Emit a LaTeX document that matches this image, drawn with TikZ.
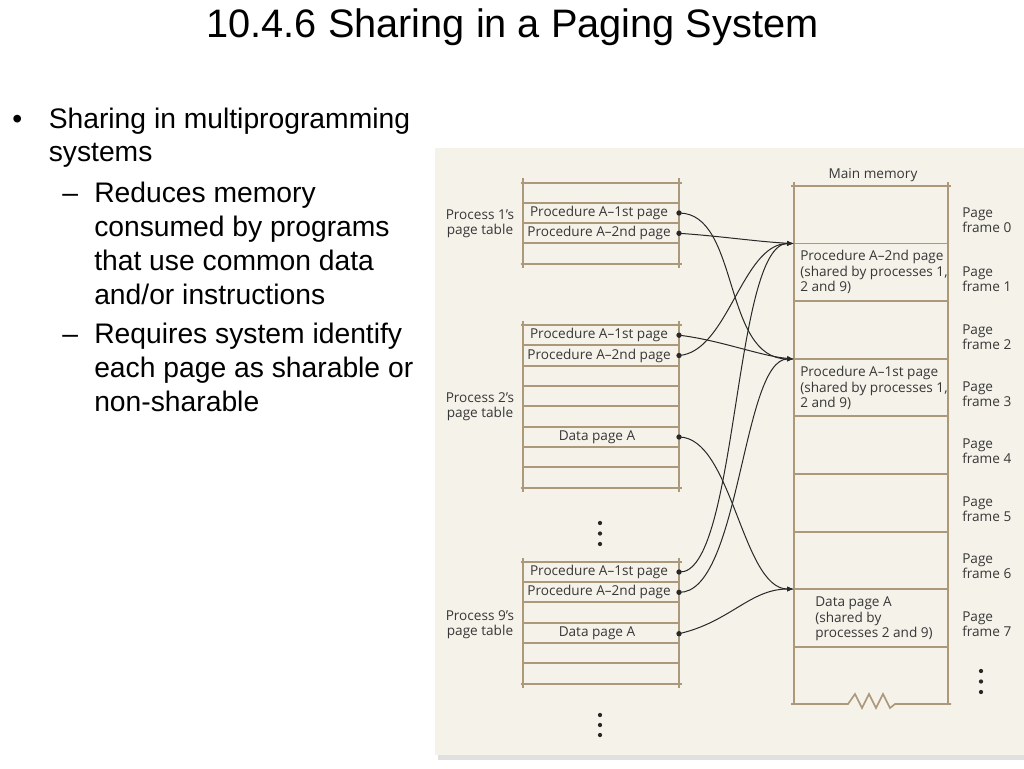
\documentclass[tikz,border=0pt]{standalone}
\usepackage{fontspec}
\setmainfont{Liberation Sans}
\newfontfamily\dfont{Open Sans}
\usetikzlibrary{arrows.meta}
\definecolor{panel}{RGB}{245,242,234}
\definecolor{tabline}{RGB}{172,153,124}
\definecolor{dtext}{RGB}{55,55,55}
\definecolor{conncol}{RGB}{40,40,40}
\begin{document}
\begin{tikzpicture}[x=0.75pt,y=-0.75pt,
  tl/.style={draw=tabline, line width=1.25pt},
  cell/.style={font=\dfont\fontsize{10.2}{11.5}\selectfont, text=dtext, inner sep=0pt},
  lbl/.style={cell, align=left, anchor=west},
  conn/.style={draw=conncol, line width=0.75pt},
  arr/.style={-{Latex[length=5.2pt,width=3.8pt]}},
  pdot/.style={circle, fill=conncol, inner sep=0pt, minimum size=4pt},
  big/.style={font=\fontsize{21.2}{25.5}\selectfont, inner sep=0pt, anchor=base west},
  vd/.style={fill=conncol}]
\useasboundingbox (0,0) rectangle (1024,768);
% panel
\fill[black!12] (438,755) rectangle (1024,760);
\fill[panel] (435,148) rectangle (1024,755);

% title
\node[anchor=base, inner sep=0pt, font=\fontsize{29.8}{36}\selectfont] (title) at (512.5,37) {10.4.6 Sharing in a Paging System};

% bullets
\node[big] (b0) at (12,128) {•};
\node[big] (b1) at (48.5,128) {Sharing in multiprogramming};
\node[big] (b2) at (48.5,161) {systems};
\node[big] (s0) at (62,202) {–};
\node[big] (s1) at (94,202) {Reduces memory};
\node[big] (s2) at (94,236) {consumed by programs};
\node[big] (s3) at (94,270) {that use common data};
\node[big] (s4) at (94,304) {and/or instructions};
\node[big] (t0) at (62,343) {–};
\node[big] (t1) at (94,343) {Requires system identify};
\node[big] (t2) at (94,377) {each page as sharable or};
\node[big] (t3) at (94,411) {non-sharable};

% ---- Process 1 page table
\draw[tl] (523,178) -- (523,268) (679,178) -- (679,268);
\draw[tl] (520.5,182.7) -- (681.5,182.7) (520.5,264.3) -- (681.5,264.3);
\foreach \y in {202.7,223.3,243.3} \draw[tl] (523,\y) -- (679,\y);
\node[cell, align=center] (pt1) at (480,224) {Process 1’s\\page table};
\node[cell] (c1a) at (599,213) {Procedure A–1st page};
\node[cell] (c1b) at (599,233.3) {Procedure A–2nd page};

% ---- Process 2 page table
\draw[tl] (523,321) -- (523,492) (679,321) -- (679,492);
\draw[tl] (520.5,325) -- (681.5,325) (520.5,487.7) -- (681.5,487.7);
\foreach \y in {345.3,365.7,386,406.3,426.7,447,467.3} \draw[tl] (523,\y) -- (679,\y);
\node[cell, align=center] (pt2) at (480,407) {Process 2’s\\page table};
\node[cell] (c2a) at (599,335.2) {Procedure A–1st page};
\node[cell] (c2b) at (599,355.5) {Procedure A–2nd page};
\node[cell] (c2d) at (597,436.8) {Data page A};

% dots between tables
\foreach \y in {523,533.5,544} \fill[vd] (600,\y) circle (1.6pt);

% ---- Process 9 page table
\draw[tl] (523,558) -- (523,688) (679,558) -- (679,688);
\draw[tl] (520.5,561.7) -- (681.5,561.7) (520.5,683.7) -- (681.5,683.7);
\foreach \y in {582,602.3,622.7,643,663.3} \draw[tl] (523,\y) -- (679,\y);
\node[cell, align=center] (pt9) at (480,625) {Process 9’s\\page table};
\node[cell] (c9a) at (599,572) {Procedure A–1st page};
\node[cell] (c9b) at (599,592.2) {Procedure A–2nd page};
\node[cell] (c9d) at (597,633.5) {Data page A};

\foreach \y in {715,725,735} \fill[vd] (600,\y) circle (1.6pt);

% ---- Main memory
\node[cell] (mm) at (873,175) {Main memory};
\draw[tl] (794,182) -- (794,704) (948,182) -- (948,704);
\draw[tl] (791,186) -- (951,186);
\foreach \y in {243.5,301,359,416,474,532,589,647} \draw[tl] (794,\y) -- (948,\y);
\draw[tl] (791,704) -- (848,704) -- (855,694) -- (862,708) -- (869,694) -- (876,708) -- (883,694) -- (890,708) -- (895,704) -- (951,704);

\node[lbl] (m1) at (800,272) {Procedure A–2nd page\\(shared by processes 1,\\2 and 9)};
\node[lbl] (m3) at (800,388) {Procedure A–1st page\\(shared by processes 1,\\2 and 9)};
\node[lbl] (m7) at (815,619) {Data page A\\(shared by\\processes 2 and 9)};

\node[lbl] (pf0) at (962,220) {Page\\frame 0};
\node[lbl] (pf1) at (962,279) {Page\\frame 1};
\node[lbl] (pf2) at (962,337) {Page\\frame 2};
\node[lbl] (pf3) at (962,394) {Page\\frame 3};
\node[lbl] (pf4) at (962,451) {Page\\frame 4};
\node[lbl] (pf5) at (962,509) {Page\\frame 5};
\node[lbl] (pf6) at (962,566) {Page\\frame 6};
\node[lbl] (pf7) at (962,624) {Page\\frame 7};
\foreach \y in {671,681.5,692} \fill[vd] (981,\y) circle (1.6pt);

% ---- connector end points
\node[pdot] (d1a) at (679,213) {};
\node[pdot] (d1b) at (679,233.3) {};
\node[pdot] (d2a) at (679,335.2) {};
\node[pdot] (d2b) at (679,355.5) {};
\node[pdot] (d2d) at (679,437) {};
\node[pdot] (d9a) at (679,572) {};
\node[pdot] (d9b) at (679,592.3) {};
\node[pdot] (d9d) at (679,633.7) {};
\coordinate (f1) at (794,243.5);
\coordinate (f3) at (794,359);
\coordinate (f7) at (794,589);

% ---- connectors
\draw[conn,arr] (d1a.center) .. controls (740,213) and (722,359) .. (f3);
\draw[conn,arr] (d1b.center) .. controls (720,236) and (760,242) .. (f1);
\draw[conn,arr] (d2a.center) .. controls (720,340) and (760,356) .. (f3);
\draw[conn,arr] (d2b.center) .. controls (728,352) and (742,243.5) .. (f1);
\draw[conn,arr] (d2d.center) .. controls (732,437) and (742,589) .. (f7);
\draw[conn,arr] (d9a.center) .. controls (738,576) and (733,243.5) .. (f1);
\draw[conn,arr] (d9b.center) .. controls (740,594) and (742,359) .. (f3);
\draw[conn,arr] (d9d.center) .. controls (730,622) and (750,589) .. (f7);
\end{tikzpicture}
\end{document}
